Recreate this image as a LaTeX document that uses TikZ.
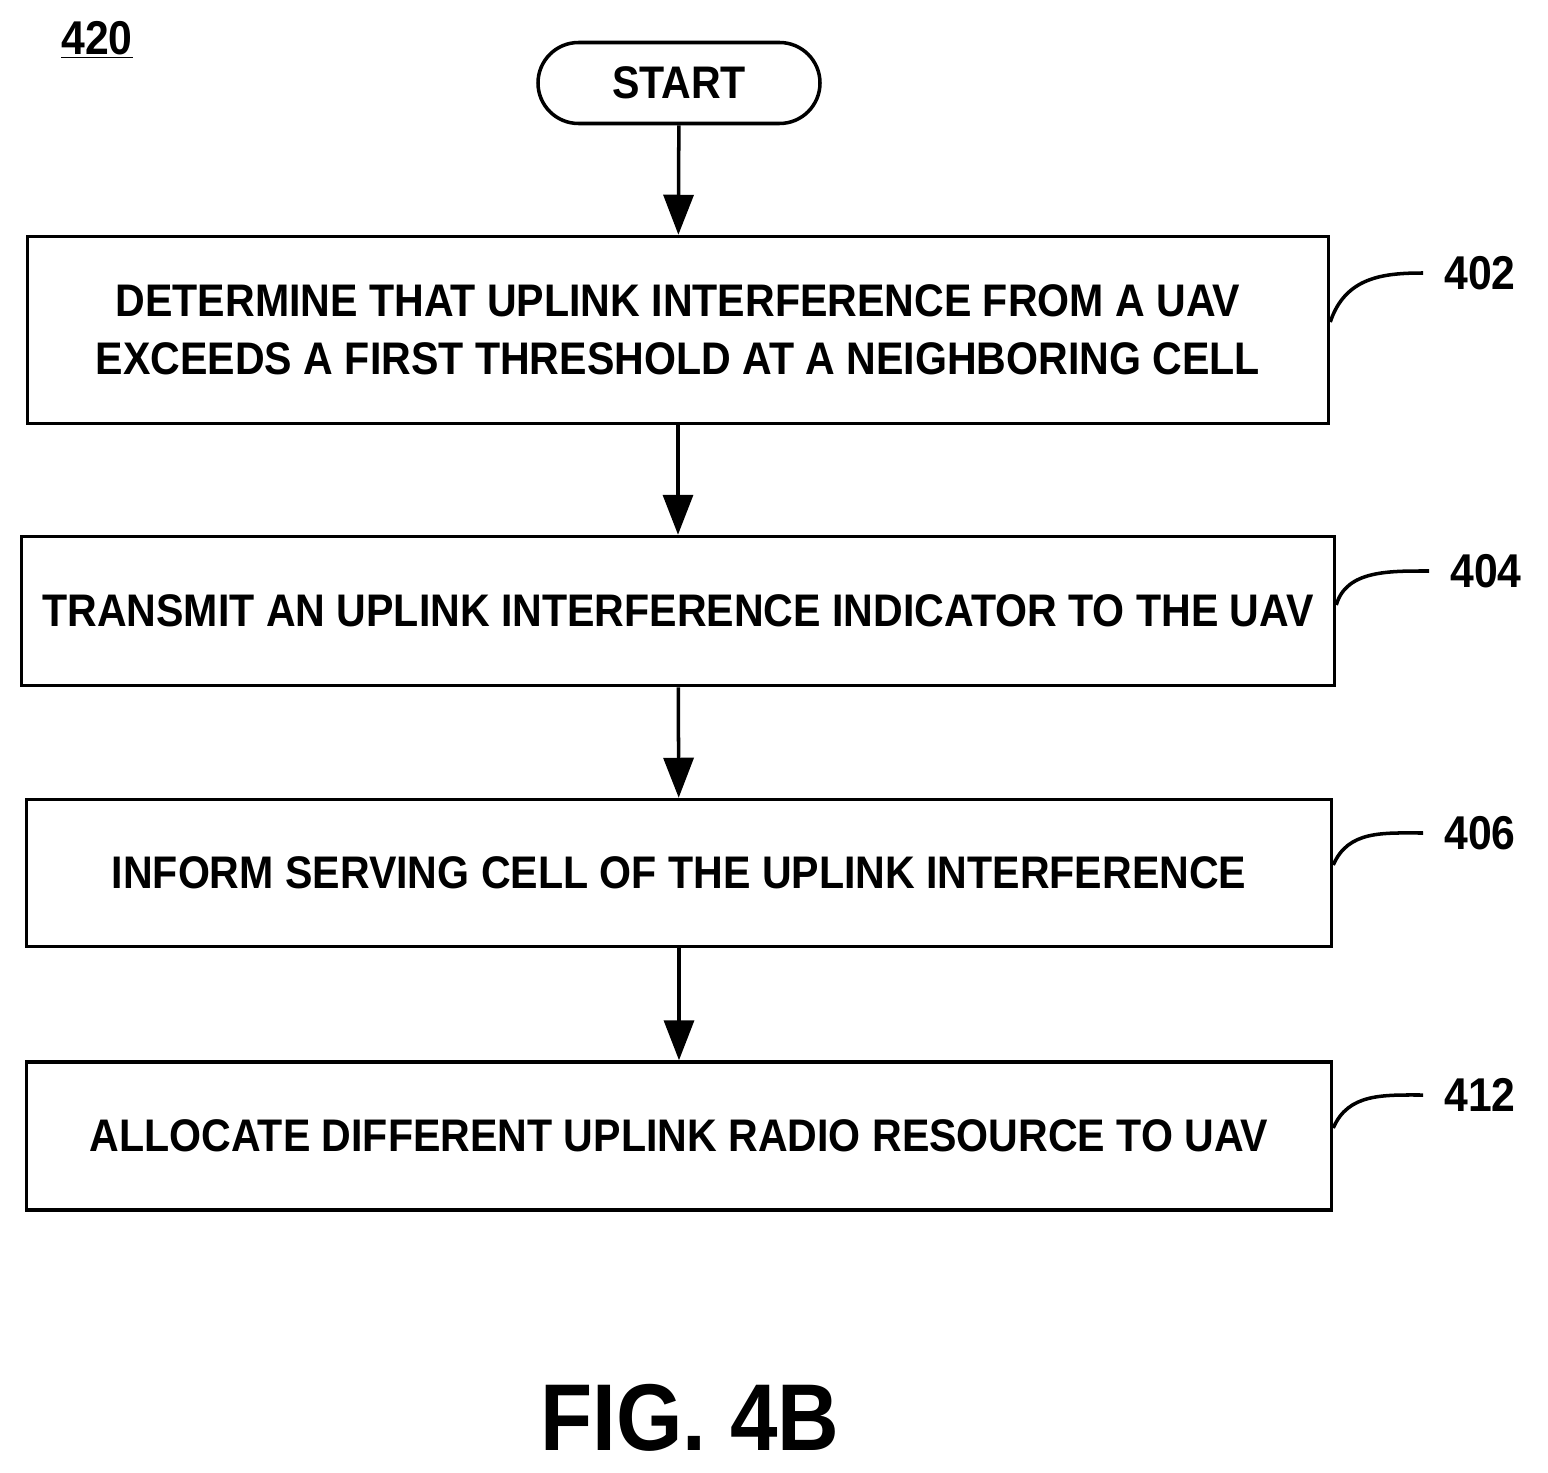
\documentclass[tikz,border=0pt]{standalone}
\usepackage{fontspec}
\setmainfont{Liberation Sans}[FakeStretch=0.9]
\usetikzlibrary{arrows.meta, shapes.misc}

\begin{document}
\begin{tikzpicture}[
      x=0.02cm, y=-0.02cm,
      >={Triangle[length=0.8cm,width=0.6cm]},
      stage/.style={draw,line width=2pt,align=center,inner sep=0pt,
        font=\fontsize{26}{33}\selectfont\bfseries},
      flow/.style={->,line width=2pt},
      leader/.style={line width=2pt},
      ref/.style={font=\fontsize{27}{30}\selectfont\bfseries}
      ]
      \useasboundingbox (0,0) rectangle (1548,1473);
      % label
      \node [ref] (fig num) at (97,40) {\underline{420}};
      % start
      \node [stage,rounded rectangle,minimum width=282*0.02cm,minimum height=81*0.02cm] (start) at (679,83) {START};
      % boxes
      \node [stage,minimum width=1301*0.02cm,minimum height=187*0.02cm] (determine) at (678,330)
        {DETERMINE THAT UPLINK INTERFERENCE FROM A UAV\\EXCEEDS A FIRST THRESHOLD AT A NEIGHBORING CELL};
      \node [stage,minimum width=1313*0.02cm,minimum height=149*0.02cm] (transmit) at (678,611)
        {TRANSMIT AN UPLINK INTERFERENCE INDICATOR TO THE UAV};
      \node [stage,minimum width=1305*0.02cm,minimum height=147*0.02cm] (inform) at (679,873)
        {INFORM SERVING CELL OF THE UPLINK INTERFERENCE};
      \node [stage,minimum width=1305*0.02cm,minimum height=148*0.02cm] (allocate) at (679,1136)
        {ALLOCATE DIFFERENT UPLINK RADIO RESOURCE TO UAV};
      % arrows
      \draw [flow] (start) -- (determine);
      \draw [flow] (determine) -- (transmit);
      \draw [flow] (transmit) -- (inform);
      \draw [flow] (inform) -- (allocate);
      % reference numerals
      \node [ref] (n402) at (1480,273) {402};
      \node [ref] (n404) at (1486,571) {404};
      \node [ref] (n406) at (1480,833) {406};
      \node [ref] (n412) at (1480,1095) {412};
      \draw [leader] (determine.east |- 0,322) .. controls +(15,-45) and +(-40,0) .. ([xshift=-0.3cm]n402.west);
      \draw [leader] (transmit.east |- 0,605) .. controls +(10,-35) and +(-40,0) .. ([xshift=-0.3cm]n404.west);
      \draw [leader] (inform.east |- 0,865) .. controls +(15,-35) and +(-40,0) .. ([xshift=-0.3cm]n406.west);
      \draw [leader] (allocate.east |- 0,1128) .. controls +(15,-35) and +(-40,0) .. ([xshift=-0.3cm]n412.west);
      % caption
      \node [font=\fontsize{54}{60}\selectfont\bfseries] (caption) at (690,1418) {FIG. 4B};
\end{tikzpicture}
\end{document}
